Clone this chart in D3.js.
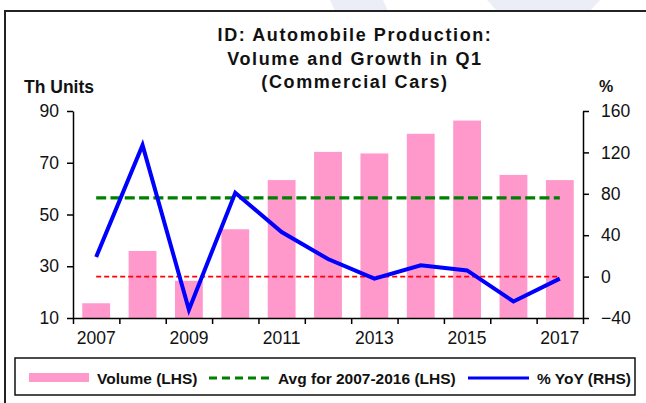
<!DOCTYPE html>
<html>
<head>
<meta charset="utf-8">
<script src="https://cdn.jsdelivr.net/npm/d3@7"></script>
<style>
  body { margin: 0; background: #fff; }
  svg { display: block; font-family: "Liberation Sans", Arial, sans-serif; }
</style>
</head>
<body>
<div id="wrapper"></div>
<script>
// DATA
const years = [2007, 2008, 2009, 2010, 2011, 2012, 2013, 2014, 2015, 2016, 2017];
const volume = [15.7, 35.9, 24.4, 44.3, 63.3, 74.2, 73.6, 81.2, 86.3, 65.3, 63.3];
const yoy = [19, 127, -32, 81, 43, 17, -2, 11, 6, -24, -2];
const avgVolume = 56.4;
const leftTicks = [10, 30, 50, 70, 90];
const rightTicks = [-40, 0, 40, 80, 120, 160];
const titleLines = ["ID: Automobile  Production:", "Volume and Growth in Q1", "(Commercial Cars)"];
const legendItems = ["Volume (LHS)", "Avg for 2007-2016 (LHS)", "% YoY (RHS)"];

function drawChart() {
  const width = 646;
  const height = 403;
  const plot = { left: 73, right: 583, top: 111, bottom: 318 };

  const svg = d3.select("#wrapper")
    .append("svg")
    .attr("width", width)
    .attr("height", height);

  // faint watermark shapes above the frame
  svg.append("path")
    .attr("d", "M330,0 L383,0 L388,11 L335,11 Z")
    .attr("fill", "#eceef7");
  svg.append("path")
    .attr("d", "M487,0 L600,0 L590,11 L497,11 Z")
    .attr("fill", "#eceef7");

  // outer frame (cropped at right and bottom)
  svg.append("rect")
    .attr("x", 5).attr("y", 11)
    .attr("width", 700).attr("height", 450)
    .attr("fill", "#fff")
    .attr("stroke", "#222")
    .attr("stroke-width", 2);

  // SCALES
  const x = d3.scaleBand()
    .domain(years)
    .range([plot.left, plot.right])
    .paddingInner(0.4)
    .paddingOuter(0.2);
  const xEdge = d3.scaleLinear()
    .domain([0, years.length])
    .range([plot.left, plot.right]);
  const yLeft = d3.scaleLinear().domain([10, 90]).range([plot.bottom, plot.top]);
  const yRight = d3.scaleLinear().domain([-40, 160]).range([plot.bottom, plot.top]);
  const cx = d => x(d) + x.bandwidth() / 2;

  // BARS
  svg.append("g")
    .selectAll("rect")
    .data(years)
    .join("rect")
    .attr("x", d => x(d))
    .attr("width", x.bandwidth())
    .attr("y", (d, i) => yLeft(volume[i]))
    .attr("height", (d, i) => yLeft(10) - yLeft(volume[i]))
    .attr("fill", "#ff99cc");

  // reference lines
  svg.append("line")
    .attr("x1", cx(years[0])).attr("x2", cx(years[years.length - 1]))
    .attr("y1", yRight(0)).attr("y2", yRight(0))
    .attr("stroke", "#ff0000")
    .attr("stroke-width", 1.6)
    .attr("stroke-dasharray", "5,3");
  svg.append("line")
    .attr("x1", cx(years[0])).attr("x2", cx(years[years.length - 1]))
    .attr("y1", yLeft(avgVolume)).attr("y2", yLeft(avgVolume))
    .attr("stroke", "#008000")
    .attr("stroke-width", 3.3)
    .attr("stroke-dasharray", "10,4.3");

  // YoY line
  const line = d3.line()
    .x(d => cx(d))
    .y((d, i) => yRight(yoy[i]));
  svg.append("path")
    .datum(years)
    .attr("d", line)
    .attr("fill", "none")
    .attr("stroke", "#0000ff")
    .attr("stroke-width", 4)
    .attr("stroke-linejoin", "miter");

  // AXES
  const axisFont = g => g.selectAll("text")
    .attr("font-size", 17.5)
    .attr("fill", "#111")
    .style("font-family", "'Liberation Sans', Arial, sans-serif");

  svg.append("g")
    .attr("transform", `translate(${plot.left},0)`)
    .call(d3.axisLeft(yLeft).tickValues(leftTicks).tickSize(6).tickPadding(8).tickSizeOuter(0))
    .call(axisFont)
    .call(g => g.selectAll("line, path").attr("stroke", "#000").attr("stroke-width", 1.5));

  svg.append("g")
    .attr("transform", `translate(${plot.right},0)`)
    .call(d3.axisRight(yRight).tickValues(rightTicks).tickSize(6).tickPadding(12).tickSizeOuter(0))
    .call(axisFont)
    .call(g => g.selectAll("line, path").attr("stroke", "#000").attr("stroke-width", 1.5));

  // bottom axis: ticks at band edges, labels on odd years
  svg.append("g")
    .attr("transform", `translate(0,${plot.bottom})`)
    .call(d3.axisBottom(xEdge).ticks(years.length).tickSize(6).tickFormat("").tickSizeOuter(0))
    .call(g => g.selectAll("line, path").attr("stroke", "#000").attr("stroke-width", 1.5));
  svg.append("g")
    .attr("transform", `translate(0,${plot.bottom})`)
    .call(d3.axisBottom(x).tickSize(0).tickPadding(14).tickFormat(d => d % 2 === 1 ? d : ""))
    .call(axisFont)
    .call(g => g.select(".domain").remove());

  // TITLE
  svg.append("g")
    .selectAll("text")
    .data(titleLines)
    .join("text")
    .attr("x", 355)
    .attr("y", (d, i) => 41 + i * 23.5)
    .attr("text-anchor", "middle")
    .attr("font-size", 18)
    .attr("font-weight", "bold")
    .attr("letter-spacing", 1.6)
    .attr("fill", "#111")
    .text(d => d);

  svg.append("text")
    .attr("x", 24).attr("y", 93)
    .attr("font-size", 17.5)
    .attr("font-weight", "bold")
    .attr("fill", "#111")
    .text("Th Units");
  svg.append("text")
    .attr("x", 599).attr("y", 92)
    .attr("font-size", 16)
    .attr("font-weight", "bold")
    .attr("fill", "#111")
    .text("%");

  // LEGEND
  const legend = svg.append("g");
  legend.append("rect")
    .attr("x", 15).attr("y", 358)
    .attr("width", 620).attr("height", 37)
    .attr("fill", "#fff")
    .attr("stroke", "#111")
    .attr("stroke-width", 1.5);
  const ly = 378;
  legend.append("rect")
    .attr("x", 29).attr("y", 373)
    .attr("width", 60).attr("height", 9)
    .attr("fill", "#ff99cc");
  legend.append("line")
    .attr("x1", 209).attr("x2", 272)
    .attr("y1", ly).attr("y2", ly)
    .attr("stroke", "#008000")
    .attr("stroke-width", 3)
    .attr("stroke-dasharray", "8,5");
  legend.append("line")
    .attr("x1", 468).attr("x2", 529)
    .attr("y1", ly).attr("y2", ly)
    .attr("stroke", "#0000ff")
    .attr("stroke-width", 3);
  const legendX = [97, 278, 537];
  legend.selectAll("text.item")
    .data(legendItems)
    .join("text")
    .attr("class", "item")
    .attr("x", (d, i) => legendX[i])
    .attr("y", 384)
    .attr("font-size", 15.5)
    .attr("font-weight", "bold")
    .attr("fill", "#111")
    .text(d => d);
}
drawChart();
</script>
</body>
</html>
